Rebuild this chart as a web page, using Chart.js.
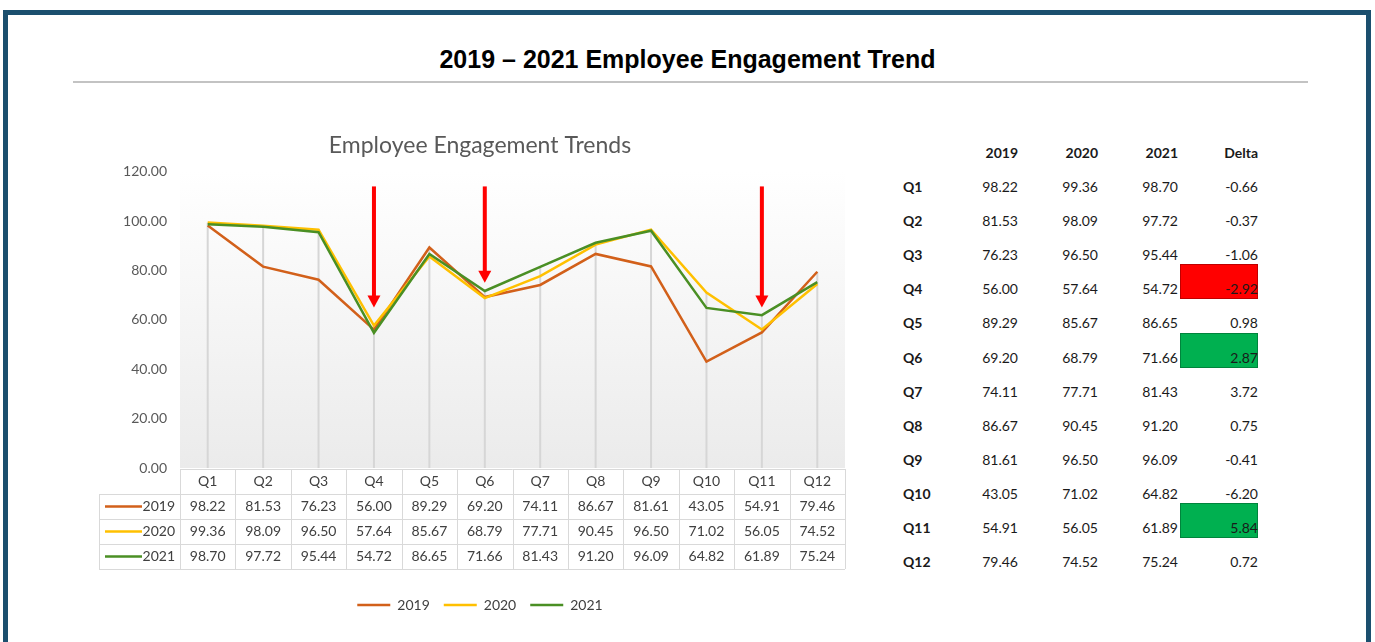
<!DOCTYPE html>
<html>
<head>
<meta charset="utf-8">
<title>Employee Engagement Trend</title>
<script src="https://cdn.jsdelivr.net/npm/chart.js@4"></script>
<style>
  body { margin: 0; background: #fff; width: 1375px; height: 642px; overflow: hidden; position: relative; font-family: Lato, sans-serif; }
  #frame { position: absolute; left: 3px; top: 10px; width: 1358px; height: 700px; border: 5px solid #1b4f6e; }
  #headline { position: absolute; left: 0; top: 45px; width: 1375px; text-align: center; line-height: 30px;
              font: bold 25px "Liberation Sans", Arial, sans-serif; color: #000; }
  #rule { position: absolute; left: 73px; top: 81px; width: 1235px; height: 2px; background: #c3c3c3; }
  #wrap { position: absolute; left: 90px; top: 120px; width: 780px; height: 510px; }
  .cell { position: absolute; height: 34px; line-height: 34px; font-size: 14px; color: #1a1a1a; white-space: nowrap; }
  .num { text-align: right; width: 70px; }
  .bold { font-weight: bold; }
  .mark { position: absolute; left: 1180px; width: 78px; height: 35px; box-sizing: border-box; }
</style>
</head>
<body>
<div id="frame"></div>
<div id="headline">2019 – 2021 Employee Engagement Trend</div>
<div id="rule"></div>
<div id="wrap"><canvas id="trend" width="780" height="510"></canvas></div>
<div id="side"></div>

<script>
const quarters = ['Q1', 'Q2', 'Q3', 'Q4', 'Q5', 'Q6', 'Q7', 'Q8', 'Q9', 'Q10', 'Q11', 'Q12'];
const years = ['2019', '2020', '2021'];
const y2019 = [98.22, 81.53, 76.23, 56.00, 89.29, 69.20, 74.11, 86.67, 81.61, 43.05, 54.91, 79.46];
const y2020 = [99.36, 98.09, 96.50, 57.64, 85.67, 68.79, 77.71, 90.45, 96.50, 71.02, 56.05, 74.52];
const y2021 = [98.70, 97.72, 95.44, 54.72, 86.65, 71.66, 81.43, 91.20, 96.09, 64.82, 61.89, 75.24];
const delta = [-0.66, -0.37, -1.06, -2.92, 0.98, 2.87, 3.72, 0.75, -0.41, -6.20, 5.84, 0.72];
const yTicks = [0, 20, 40, 60, 80, 100, 120];

// call-out arrows: category, value where the shaft starts, value at the tip
const arrowCats = ['Q4', 'Q6', 'Q11'];
const arrowFrom = [114, 114, 114];
const arrowTo = [65, 75, 65];

// delta cells that get a fill
const flagged = { Q4: '#ff0000', Q6: '#00b050', Q11: '#00b050' };

const lineColors = ['#d2601a', '#ffc000', '#4a8f24'];
const series = [y2019, y2020, y2021];
const FONT = 'Lato';

// plot background, drop lines, data table and arrows
const extras = {
  id: 'extras',
  beforeDatasetsDraw(chart) {
    const { ctx, chartArea: a, scales: { x, y } } = chart;
    ctx.save();
    const g = ctx.createLinearGradient(0, a.top, 0, a.bottom);
    g.addColorStop(0, '#ffffff');
    g.addColorStop(1, '#ebebeb');
    ctx.fillStyle = g;
    ctx.fillRect(a.left, a.top, a.right - a.left, a.bottom - a.top);

    ctx.strokeStyle = '#d6d6d6';
    ctx.lineWidth = 2;
    quarters.forEach((q, i) => {
      const top = Math.max(y2019[i], y2020[i], y2021[i]);
      const px = x.getPixelForValue(i);
      ctx.beginPath();
      ctx.moveTo(px, y.getPixelForValue(top));
      ctx.lineTo(px, a.bottom);
      ctx.stroke();
    });
    ctx.restore();
  },
  afterDatasetsDraw(chart) {
    const { ctx, chartArea: a, scales: { x, y } } = chart;
    const step = x.getPixelForValue(1) - x.getPixelForValue(0);
    const rowH = 25;
    const keyLeft = 9;
    ctx.save();

    // table under the axis
    const top = a.bottom + 1;
    ctx.fillStyle = '#ffffff';
    ctx.fillRect(a.left, top, a.right - a.left, rowH);
    ctx.fillRect(keyLeft, top + rowH, a.right - keyLeft, rowH * 3);
    ctx.strokeStyle = '#d9d9d9';
    ctx.lineWidth = 1;
    ctx.beginPath();
    for (let r = 0; r <= 4; r++) {
      const ry = Math.round(top + r * rowH) + 0.5;
      ctx.moveTo(r === 0 ? a.left : keyLeft, ry);
      ctx.lineTo(a.right, ry);
    }
    for (let c = 0; c <= quarters.length; c++) {
      const cx = Math.round(a.left + c * step) + 0.5;
      ctx.moveTo(cx, top);
      ctx.lineTo(cx, top + rowH * 4);
    }
    ctx.moveTo(keyLeft + 0.5, top + rowH);
    ctx.lineTo(keyLeft + 0.5, top + rowH * 4);
    ctx.stroke();

    ctx.font = `14px ${FONT}`;
    ctx.fillStyle = '#404040';
    ctx.textAlign = 'center';
    ctx.textBaseline = 'middle';
    quarters.forEach((q, i) => ctx.fillText(q, x.getPixelForValue(i), top + rowH / 2));
    series.forEach((vals, s) => {
      const cy = top + rowH * (s + 1.5);
      ctx.fillStyle = '#404040';
      ctx.textAlign = 'center';
      vals.forEach((v, i) => ctx.fillText(v.toFixed(2), x.getPixelForValue(i), cy));
      ctx.textAlign = 'right';
      ctx.fillText(years[s], a.left - 5, cy);
      ctx.strokeStyle = lineColors[s];
      ctx.lineWidth = 2.5;
      ctx.beginPath();
      ctx.moveTo(keyLeft + 6, cy);
      ctx.lineTo(keyLeft + 43, cy);
      ctx.stroke();
    });

    // red call-out arrows
    ctx.fillStyle = '#ff0000';
    arrowCats.forEach((cat, k) => {
      const px = x.getPixelForValue(quarters.indexOf(cat));
      const y0 = y.getPixelForValue(arrowFrom[k]);
      const y1 = y.getPixelForValue(arrowTo[k]);
      ctx.fillRect(px - 2, y0, 4, y1 - y0 - 11);
      ctx.beginPath();
      ctx.moveTo(px - 6.5, y1 - 12);
      ctx.lineTo(px + 6.5, y1 - 12);
      ctx.lineTo(px, y1);
      ctx.closePath();
      ctx.fill();
    });
    ctx.restore();
  }
};

new Chart(document.getElementById('trend'), {
  type: 'line',
  data: {
    labels: quarters,
    datasets: series.map((vals, s) => ({
      label: years[s],
      data: vals,
      borderColor: lineColors[s],
      backgroundColor: lineColors[s],
      borderWidth: 2.5,
      pointRadius: 0,
      pointBorderWidth: 2.5,
      tension: 0,
      order: 3 - s
    }))
  },
  options: {
    responsive: false,
    animation: false,
    layout: { padding: { left: 25, right: 25, top: 0, bottom: 8 } },
    plugins: {
      title: {
        display: true,
        text: 'Employee Engagement Trends',
        color: '#595959',
        font: { family: FONT, size: 23, weight: 'normal' },
        padding: { top: 12, bottom: 12 }
      },
      legend: {
        position: 'bottom',
        labels: {
          usePointStyle: true,
          pointStyle: 'line',
          pointStyleWidth: 33,
          color: '#404040',
          font: { family: FONT, size: 14 },
          padding: 14,
          sort: (a, b) => a.datasetIndex - b.datasetIndex
        }
      },
      tooltip: { enabled: false }
    },
    scales: {
      x: {
        offset: true,
        grid: { display: false },
        border: { display: false },
        ticks: { display: false },
        afterFit: s => { s.height = 116; }
      },
      y: {
        min: 0,
        max: 120,
        afterBuildTicks: s => { s.ticks = yTicks.map(v => ({ value: v })); },
        ticks: {
          callback: v => Number(v).toFixed(2),
          color: '#595959',
          font: { family: FONT, size: 14 },
          padding: 13
        },
        grid: { display: false, drawTicks: false },
        border: { display: false },
        afterFit: s => { s.width = 65; }
      }
    }
  },
  plugins: [extras]
});

// summary table on the right
const side = document.getElementById('side');
const colRight = [1018, 1098, 1178, 1258];
function cell(text, left, cy, cls) {
  const d = document.createElement('div');
  d.className = 'cell ' + cls;
  d.textContent = text;
  d.style.left = left + 'px';
  d.style.top = (cy - 17) + 'px';
  side.appendChild(d);
}
['2019', '2020', '2021', 'Delta'].forEach((h, c) => cell(h, colRight[c] - 70, 153, 'num bold'));
quarters.forEach((q, i) => {
  const cy = 187 + i * 34.1;
  if (flagged[q]) {
    const m = document.createElement('div');
    m.className = 'mark';
    m.style.top = (cy - 25) + 'px';
    m.style.background = flagged[q];
    m.style.border = '1px solid rgba(0,0,0,0.25)';
    side.appendChild(m);
  }
  cell(q, 903, cy, 'bold');
  [y2019[i], y2020[i], y2021[i], delta[i]].forEach((v, c) =>
    cell(v.toFixed(2), colRight[c] - 70, cy, 'num'));
});
</script>
</body>
</html>
